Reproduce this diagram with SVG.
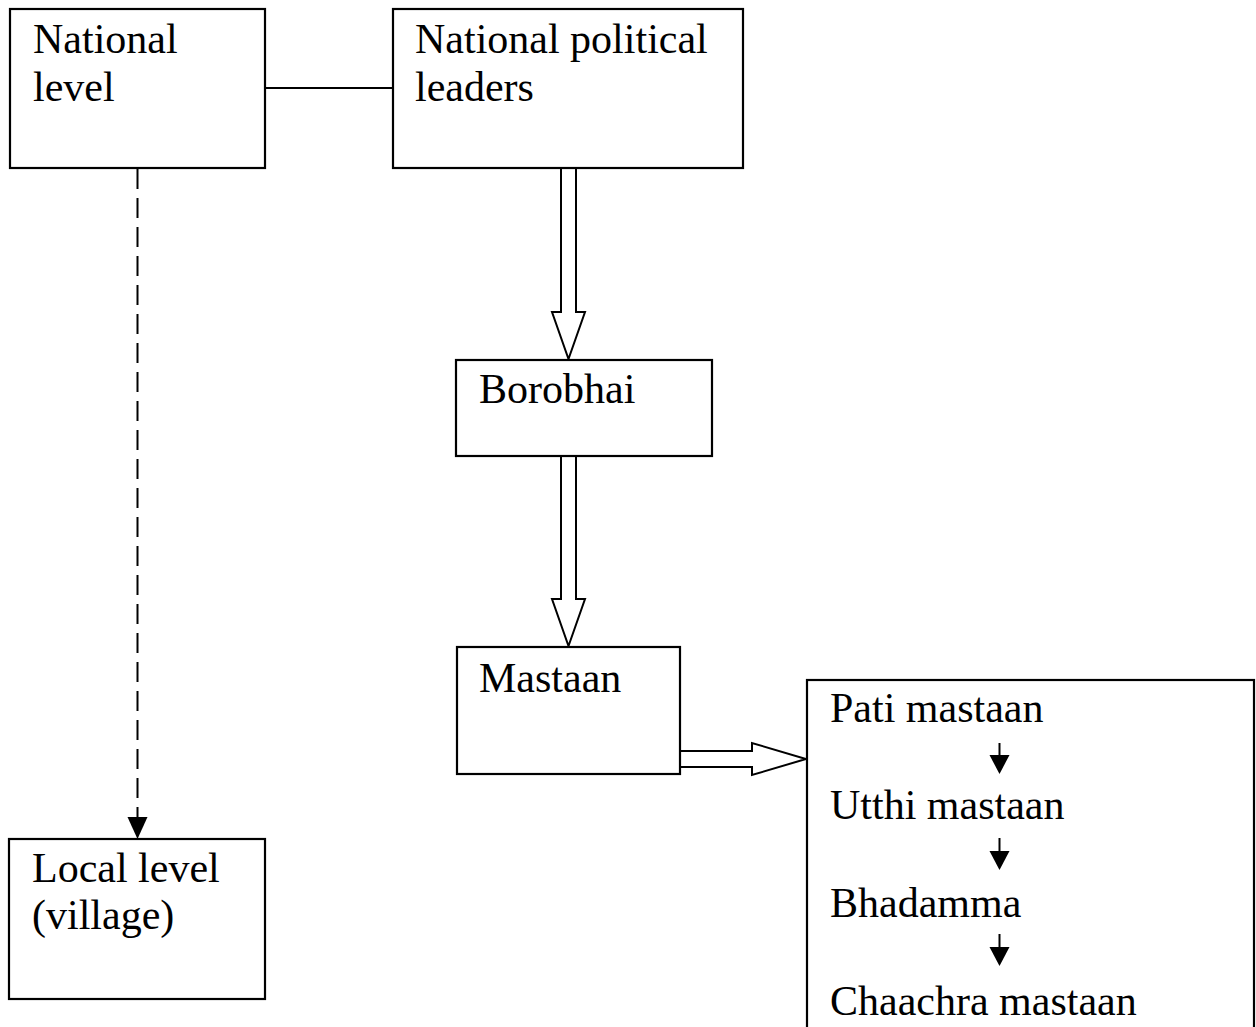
<svg xmlns="http://www.w3.org/2000/svg" width="1256" height="1027" viewBox="0 0 1256 1027">
<style>
.box{fill:#fff;stroke:#000;stroke-width:2.2}
.t{font-family:"Liberation Serif","Times New Roman",serif;font-size:42px;fill:#000}
.ln{fill:none;stroke:#000;stroke-width:2}
.blk{fill:#fff;stroke:#000;stroke-width:2;stroke-linejoin:miter}
.hd{fill:#000;stroke:none}
</style>
<rect width="1256" height="1027" fill="#fff"/>
<g id="connectors">
<line class="ln" x1="265" y1="88" x2="393" y2="88"/>
<line class="ln" x1="137.5" y1="169" x2="137.5" y2="818" stroke-dasharray="20,9"/>
<polygon class="hd" points="127.5,817 147.5,817 137.5,839"/>
<polygon class="blk" points="561,168 576,168 576,312 585,312 568.5,359 552,312 561,312"/>
<polygon class="blk" points="561,456 576,456 576,599 585,599 568.5,646 552,599 561,599"/>
<polygon class="blk" points="680,751 752,751 752,743 806,759 752,775 752,767 680,767"/>
</g>
<g id="national-level">
<rect class="box" x="10" y="9" width="255" height="159"/>
<text class="t" x="33" y="53">National</text>
<text class="t" x="33" y="101">level</text>
</g>
<g id="national-political-leaders">
<rect class="box" x="393" y="9" width="350" height="159"/>
<text class="t" x="415" y="53">National political</text>
<text class="t" x="415" y="101">leaders</text>
</g>
<g id="borobhai">
<rect class="box" x="456" y="360" width="256" height="96"/>
<text class="t" x="479" y="403">Borobhai</text>
</g>
<g id="mastaan">
<rect class="box" x="457" y="647" width="223" height="127"/>
<text class="t" x="479" y="692">Mastaan</text>
</g>
<g id="local-level">
<rect class="box" x="9" y="839" width="256" height="160"/>
<text class="t" x="32" y="882">Local level</text>
<text class="t" x="32" y="929">(village)</text>
</g>
<g id="mastaan-ranks">
<rect class="box" x="807" y="680" width="447" height="400"/>
<text class="t" x="830" y="722">Pati mastaan</text>
<text class="t" x="830" y="819">Utthi mastaan</text>
<text class="t" x="830" y="917">Bhadamma</text>
<text class="t" x="830" y="1015">Chaachra mastaan</text>
<line class="ln" x1="999.5" y1="743" x2="999.5" y2="756"/>
<polygon class="hd" points="989.5,755 1009.5,755 999.5,774"/>
<line class="ln" x1="999.5" y1="838" x2="999.5" y2="852"/>
<polygon class="hd" points="989.5,851 1009.5,851 999.5,870"/>
<line class="ln" x1="999.5" y1="934" x2="999.5" y2="948"/>
<polygon class="hd" points="989.5,947 1009.5,947 999.5,966"/>
</g>
</svg>
